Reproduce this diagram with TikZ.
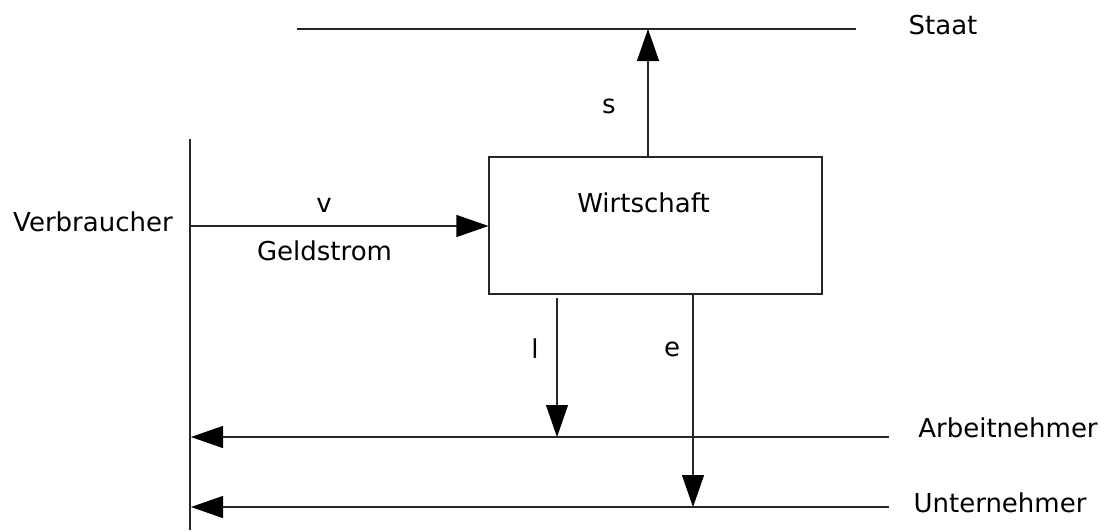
\documentclass[tikz,border=0pt]{standalone}
\usepackage{fontspec}
\setmainfont{DejaVu Sans}
\usetikzlibrary{arrows.meta}
\begin{document}
\begin{tikzpicture}[x=1pt,y=-1pt,
  ln/.style={line width=1.1pt,draw=black!85},
  arr/.style={ln,-{Triangle[length=32pt,width=22pt,color=black]}},
  lbl/.style={anchor=base,inner sep=0pt,font=\fontsize{26}{31}\selectfont},
  boxst/.style={ln,rectangle,inner sep=0pt,minimum width=333pt,minimum height=137pt}]
\useasboundingbox (0,0) rectangle (1108,531);
% coordinates
\coordinate (vtop) at (190,139);
\coordinate (vbot) at (190,530);
\coordinate (stl) at (297,29);
\coordinate (str) at (856,29);
\coordinate (stip) at (648,29);
\coordinate (aR) at (889,437);
\coordinate (aL) at (191,437);
\coordinate (uR) at (889,507);
\coordinate (uL) at (191,507);
\coordinate (vin) at (191,226);
\coordinate (ltip) at (557,437);
\coordinate (etip) at (693,507);
% box
\node[boxst,draw] (box) at (655.5,225.5) {};
\node[lbl] (wt) at (643.5,212) {Wirtschaft};
% lines
\draw[ln] (vtop) -- (vbot);
\draw[ln] (stl) -- (str);
% arrows
\draw[arr] (box.north -| stip) -- (stip);
\draw[arr] (vin) -- (vin -| box.west);
\draw[arr] (ltip |- 0,298) -- (ltip);
\draw[arr] (box.south -| etip) -- (etip);
\draw[arr] (aR) -- (aL);
\draw[arr] (uR) -- (uL);
% labels
\node[lbl] (staat) at (943,34) {Staat};
\node[lbl] (s) at (609,113) {s};
\node[lbl] (verb) at (93,231) {Verbraucher};
\node[lbl] (v) at (324,212) {v};
\node[lbl] (geld) at (324.5,260) {Geldstrom};
\node[lbl] (l) at (535,358) {l};
\node[lbl] (e) at (672,356) {e};
\node[lbl] (arb) at (1008,437) {Arbeitnehmer};
\node[lbl] (unt) at (1000,512) {Unternehmer};
\end{tikzpicture}
\end{document}
